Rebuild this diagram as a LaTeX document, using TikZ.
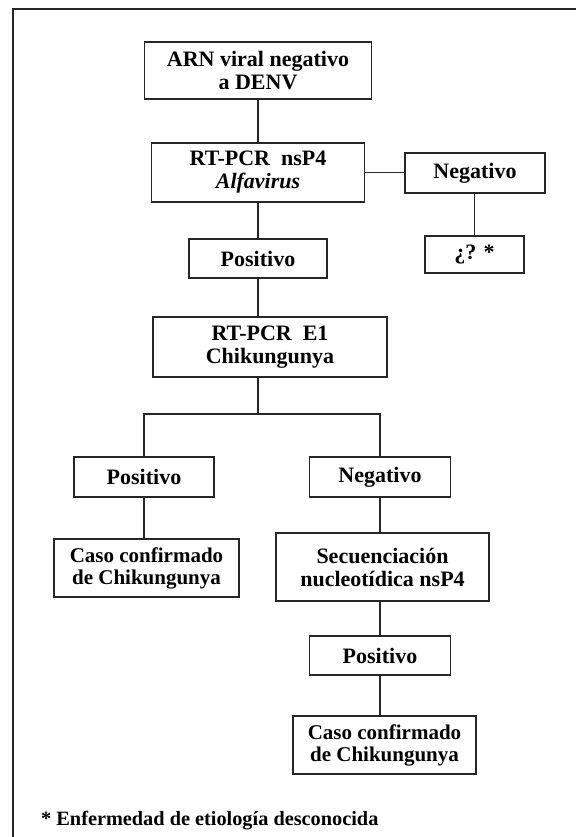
\documentclass[tikz,border=0pt]{standalone}
\usepackage{fontspec}
\setmainfont{Liberation Serif}
\begin{document}
\begin{tikzpicture}[x=1pt, y=-1pt,
	box/.style={draw=black!85, line width=1.8pt, inner sep=0pt, align=center, font=\fontsize{22}{23}\selectfont\bfseries},
	link/.style={draw=black!85, line width=1.8pt}]
	\useasboundingbox (0, 0) rectangle (576, 837);
	\draw[line width=2.4pt, black!85] (13, 837) -- (13, 9) -- (576, 9);
	\node[box, minimum width=227pt, minimum height=57pt] (1) at (258, 70.5) {ARN viral negativo\\a DENV};
	\node[box, minimum width=213pt, minimum height=59pt] (2) at (258, 172.5) {RT-PCR~ nsP4\\\textit{Alfavirus}};
	\node[box, minimum width=140pt, minimum height=40pt] (3) at (475, 173) {Negativo};
	\node[box, minimum width=99pt, minimum height=37pt] (4) at (474.5, 254.5) {¿? *};
	\node[box, minimum width=138pt, minimum height=39pt] (5) at (258, 258.5) {Positivo};
	\node[box, minimum width=234pt, minimum height=60pt] (6) at (270, 347) {RT-PCR~ E1\\Chikungunya};
	\node[box, minimum width=140pt, minimum height=40pt] (7) at (144, 477) {Positivo};
	\node[box, minimum width=141pt, minimum height=40pt] (8) at (380, 477) {Negativo};
	\node[box, minimum width=185pt, minimum height=58pt, font=\fontsize{21}{22}\selectfont\bfseries] (9) at (146.5, 568) {Caso confirmado\\de Chikungunya};
	\node[box, minimum width=213pt, minimum height=68pt] (10) at (382.5, 567) {Secuenciación\\nucleotídica nsP4};
	\node[box, minimum width=141pt, minimum height=39pt] (11) at (380, 655.5) {Positivo};
	\node[box, minimum width=183pt, minimum height=58pt, font=\fontsize{21}{22}\selectfont\bfseries] (12) at (384.5, 745) {Caso confirmado\\de Chikungunya};
	\node[anchor=west, inner sep=0pt, font=\fontsize{20.3}{20}\selectfont\bfseries] (13) at (41, 821) {* Enfermedad de etiología desconocida};
	\coordinate (14) at (258, 414);
	\draw[link] (1) to (2);
	\draw[link] (2.east) to (2.east -| 3.west);
	\draw[link] (4 |- 3.south) to (4);
	\draw[link] (2) to (5);
	\draw[link] (5) to (5 |- 6.north);
	\draw[link] (5 |- 6.south) to (14);
	\draw[link] (7) |- (14) -| (8);
	\draw[link] (7) to (7 |- 9.north);
	\draw[link] (8) to (8 |- 10.north);
	\draw[link] (11 |- 10.south) to (11);
	\draw[link] (11) to (11 |- 12.north);
\end{tikzpicture}
\end{document}
